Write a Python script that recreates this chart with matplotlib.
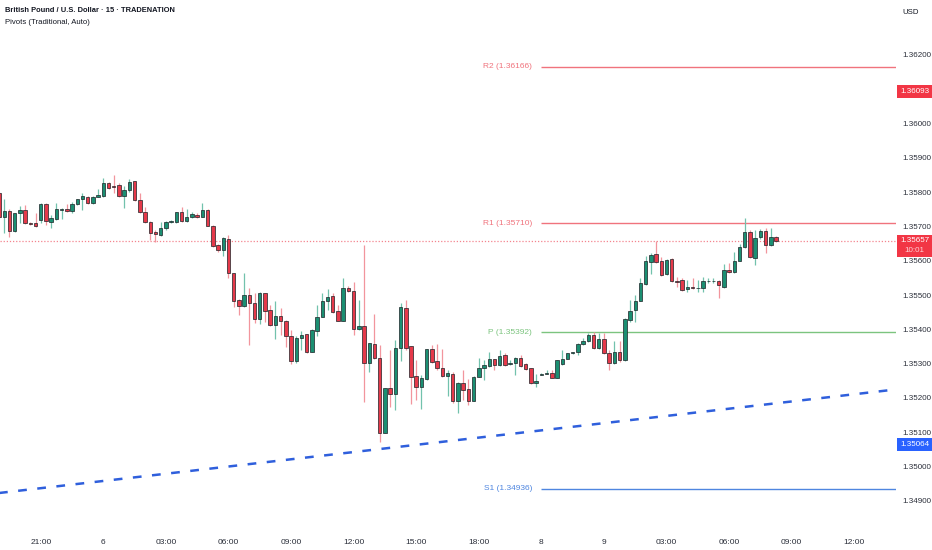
import matplotlib
matplotlib.use("Agg")
import matplotlib.pyplot as plt
import matplotlib.transforms as mtransforms
from matplotlib.patches import Rectangle
from matplotlib import font_manager as fm

names = {f.name for f in fm.fontManager.ttflist}
FONT = 'Liberation Sans Narrow' if 'Liberation Sans Narrow' in names else 'Liberation Sans'
plt.rcParams['font.family'] = [FONT, 'DejaVu Sans']

# ---------------- data ----------------
opens = [1.35797, 1.35727, 1.35745, 1.35687, 1.35738, 1.35748, 1.35711, 1.35709, 1.35719, 1.35765,
         1.35714, 1.35722, 1.35749, 1.35752, 1.35745, 1.35765, 1.35781, 1.35787, 1.35768, 1.35786,
         1.35789, 1.35828, 1.35818, 1.35820, 1.35789, 1.35805, 1.35833, 1.35777, 1.35743, 1.35714,
         1.35683, 1.35675, 1.35695, 1.35712, 1.35714, 1.35741, 1.35716, 1.35727, 1.35734, 1.35729,
         1.35748, 1.35701, 1.35646, 1.35632, 1.35664, 1.35564, 1.35486, 1.35468, 1.35500, 1.35476,
         1.35429, 1.35505, 1.35456, 1.35412, 1.35439, 1.35425, 1.35380, 1.35308, 1.35376, 1.35386,
         1.35335, 1.35396, 1.35437, 1.35483, 1.35498, 1.35453, 1.35425, 1.35521, 1.35511, 1.35400,
         1.35410, 1.35302, 1.35357, 1.35318, 1.35098, 1.35228, 1.35213, 1.35347, 1.35463, 1.35351,
         1.35264, 1.35233, 1.35254, 1.35342, 1.35308, 1.35288, 1.35264, 1.35271, 1.35191, 1.35245,
         1.35226, 1.35192, 1.35262, 1.35286, 1.35294, 1.35313, 1.35296, 1.35325, 1.35299, 1.35301,
         1.35317, 1.35299, 1.35286, 1.35245, 1.35267, 1.35270, 1.35274, 1.35259, 1.35299, 1.35315,
         1.35330, 1.35333, 1.35357, 1.35366, 1.35384, 1.35345, 1.35372, 1.35331, 1.35301, 1.35334,
         1.35311, 1.35428, 1.35457, 1.35484, 1.35532, 1.35596, 1.35619, 1.35600, 1.35561, 1.35606,
         1.35541, 1.35544, 1.35518, 1.35525, 1.35520, 1.35520, 1.35540, 1.35540, 1.35542, 1.35525,
         1.35574, 1.35567, 1.35600, 1.35639, 1.35685, 1.35608, 1.35668, 1.35687, 1.35645, 1.35669]
highs = [1.35800, 1.35779, 1.35750, 1.35740, 1.35760, 1.35762, 1.35714, 1.35740, 1.35768, 1.35768,
         1.35734, 1.35768, 1.35753, 1.35766, 1.35770, 1.35781, 1.35798, 1.35789, 1.35789, 1.35810,
         1.35841, 1.35830, 1.35850, 1.35828, 1.35818, 1.35839, 1.35834, 1.35797, 1.35758, 1.35716,
         1.35690, 1.35714, 1.35716, 1.35719, 1.35743, 1.35758, 1.35750, 1.35743, 1.35738, 1.35768,
         1.35750, 1.35704, 1.35648, 1.35668, 1.35674, 1.35564, 1.35488, 1.35564, 1.35520, 1.35505,
         1.35509, 1.35505, 1.35471, 1.35482, 1.35461, 1.35427, 1.35398, 1.35380, 1.35395, 1.35388,
         1.35400, 1.35471, 1.35505, 1.35519, 1.35505, 1.35471, 1.35550, 1.35526, 1.35539, 1.35485,
         1.35646, 1.35361, 1.35446, 1.35354, 1.35228, 1.35339, 1.35369, 1.35477, 1.35485, 1.35351,
         1.35310, 1.35267, 1.35344, 1.35354, 1.35356, 1.35344, 1.35281, 1.35276, 1.35247, 1.35283,
         1.35254, 1.35264, 1.35318, 1.35310, 1.35335, 1.35315, 1.35341, 1.35330, 1.35310, 1.35320,
         1.35325, 1.35303, 1.35288, 1.35271, 1.35273, 1.35283, 1.35283, 1.35312, 1.35340, 1.35332,
         1.35335, 1.35359, 1.35374, 1.35390, 1.35392, 1.35389, 1.35389, 1.35340, 1.35367, 1.35365,
         1.35433, 1.35486, 1.35501, 1.35549, 1.35615, 1.35622, 1.35658, 1.35612, 1.35605, 1.35608,
         1.35554, 1.35549, 1.35544, 1.35549, 1.35544, 1.35554, 1.35551, 1.35551, 1.35544, 1.35590,
         1.35595, 1.35627, 1.35648, 1.35724, 1.35690, 1.35690, 1.35692, 1.35695, 1.35697, 1.35671]
lows = [1.35725, 1.35682, 1.35668, 1.35685, 1.35711, 1.35707, 1.35704, 1.35698, 1.35711, 1.35704,
        1.35697, 1.35719, 1.35721, 1.35742, 1.35738, 1.35763, 1.35748, 1.35766, 1.35766, 1.35785,
        1.35787, 1.35810, 1.35797, 1.35787, 1.35755, 1.35802, 1.35775, 1.35738, 1.35709, 1.35661,
        1.35655, 1.35673, 1.35690, 1.35709, 1.35709, 1.35714, 1.35714, 1.35724, 1.35724, 1.35727,
        1.35700, 1.35639, 1.35627, 1.35614, 1.35549, 1.35464, 1.35442, 1.35466, 1.35355, 1.35418,
        1.35417, 1.35422, 1.35409, 1.35373, 1.35383, 1.35349, 1.35298, 1.35301, 1.35339, 1.35330,
        1.35333, 1.35380, 1.35435, 1.35456, 1.35448, 1.35425, 1.35425, 1.35509, 1.35383, 1.35398,
        1.35189, 1.35276, 1.35315, 1.35072, 1.35098, 1.35174, 1.35166, 1.35308, 1.35339, 1.35182,
        1.35194, 1.35169, 1.35252, 1.35303, 1.35283, 1.35260, 1.35205, 1.35184, 1.35157, 1.35194,
        1.35179, 1.35191, 1.35260, 1.35252, 1.35291, 1.35281, 1.35294, 1.35293, 1.35296, 1.35267,
        1.35291, 1.35281, 1.35242, 1.35233, 1.35267, 1.35269, 1.35257, 1.35257, 1.35296, 1.35315,
        1.35328, 1.35325, 1.35354, 1.35364, 1.35343, 1.35343, 1.35328, 1.35282, 1.35299, 1.35304,
        1.35309, 1.35423, 1.35423, 1.35483, 1.35528, 1.35561, 1.35595, 1.35557, 1.35559, 1.35538,
        1.35525, 1.35512, 1.35508, 1.35518, 1.35510, 1.35510, 1.35535, 1.35535, 1.35491, 1.35522,
        1.35564, 1.35564, 1.35598, 1.35637, 1.35608, 1.35588, 1.35664, 1.35622, 1.35642, 1.35654]
closes = [1.35729, 1.35745, 1.35687, 1.35738, 1.35748, 1.35709, 1.35707, 1.35700, 1.35765, 1.35716,
          1.35724, 1.35752, 1.35752, 1.35745, 1.35767, 1.35780, 1.35789, 1.35768, 1.35787, 1.35791,
          1.35828, 1.35812, 1.35814, 1.35789, 1.35807, 1.35830, 1.35777, 1.35741, 1.35712, 1.35682,
          1.35678, 1.35697, 1.35713, 1.35716, 1.35741, 1.35716, 1.35729, 1.35736, 1.35727, 1.35748,
          1.35701, 1.35643, 1.35632, 1.35666, 1.35564, 1.35484, 1.35468, 1.35500, 1.35478, 1.35429,
          1.35505, 1.35453, 1.35412, 1.35440, 1.35425, 1.35381, 1.35308, 1.35376, 1.35385, 1.35335,
          1.35398, 1.35437, 1.35483, 1.35495, 1.35451, 1.35425, 1.35521, 1.35511, 1.35400, 1.35410,
          1.35302, 1.35359, 1.35318, 1.35098, 1.35228, 1.35213, 1.35347, 1.35464, 1.35347, 1.35262,
          1.35233, 1.35257, 1.35342, 1.35305, 1.35286, 1.35264, 1.35273, 1.35191, 1.35244, 1.35223,
          1.35192, 1.35262, 1.35286, 1.35296, 1.35313, 1.35296, 1.35323, 1.35296, 1.35303, 1.35317,
          1.35294, 1.35284, 1.35244, 1.35250, 1.35271, 1.35274, 1.35259, 1.35310, 1.35315, 1.35330,
          1.35333, 1.35357, 1.35366, 1.35384, 1.35347, 1.35372, 1.35331, 1.35301, 1.35334, 1.35311,
          1.35430, 1.35455, 1.35483, 1.35535, 1.35598, 1.35617, 1.35596, 1.35559, 1.35603, 1.35540,
          1.35538, 1.35515, 1.35525, 1.35520, 1.35522, 1.35542, 1.35542, 1.35542, 1.35528, 1.35574,
          1.35567, 1.35600, 1.35640, 1.35685, 1.35610, 1.35666, 1.35687, 1.35647, 1.35669, 1.35657]

time_tick_bars = [8, 20, 32, 44, 56, 68, 80, 92, 104, 116, 128, 140, 152, 164]
time_tick_labels = ["21:00", "6", "03:00", "06:00", "09:00", "12:00", "15:00", "18:00",
                    "8", "9", "03:00", "06:00", "09:00", "12:00"]

price_ticks = [1.349, 1.350, 1.351, 1.352, 1.353, 1.354, 1.355, 1.356,
               1.357, 1.358, 1.359, 1.360, 1.362]

pivot_names = ["R2", "R1", "P", "S1"]
pivot_values = [1.36166, 1.35710, 1.35392, 1.34936]
pivot_colors = ["#f0737d", "#f0737d", "#7cc47f", "#4f86e0"]
pivot_start_bar = 104

trend_bars = [0, 172]
trend_prices = [1.34923, 1.35225]

last_price = 1.35657
countdown = "10:01"
high_marker = 1.36093
trend_marker = 1.35064

title = "British Pound / U.S. Dollar · 15 · TRADENATION"
subtitle = "Pivots (Traditional, Auto)"

# ---------------- figure ----------------
W, H = 932, 550
fig = plt.figure(figsize=(W / 100, H / 100), dpi=100)
fig.patch.set_facecolor("white")
plot_right_px = 896
plot_bottom_px = 527
ax = fig.add_axes([0, (H - plot_bottom_px) / H, plot_right_px / W, plot_bottom_px / H])
ax.set_facecolor("white")

n = len(opens)
xs = list(range(n))
ax.set_xlim(0.19, 172.0)
ax.set_ylim(1.348239, 1.363603)

GREEN = "#1b8f72"
RED = "#e5394a"
GREEN_WICK = "#72c2ad"
RED_WICK = "#f2959d"
EDGE = "#1d2226"

for i in xs:
    o, h, l, c = opens[i], highs[i], lows[i], closes[i]
    up = c >= o
    ax.vlines(i, l, h, colors=GREEN_WICK if up else RED_WICK, linewidth=0.9, zorder=2)
    bottom = min(o, c)
    height = max(abs(c - o), 0.000012)
    ax.bar(i, height, bottom=bottom, width=0.66, color=GREEN if up else RED,
           edgecolor=EDGE, linewidth=0.5, zorder=3)

# current price dotted line
ax.axhline(last_price, color="#f4848f", linewidth=0.9, linestyle=(0, (1, 1.5)), zorder=1)

# pivot levels
for name, val, col in zip(pivot_names, pivot_values, pivot_colors):
    ax.hlines(val, pivot_start_bar, 172.5, colors=col, linewidth=1.0, zorder=1)
    ax.text(pivot_start_bar - 1.8, val, f"{name} ({val:.5f})", color=col, fontsize=6,
            ha="right", va="center")

# trend line
ax.plot(trend_bars, trend_prices, color="#2f5fdc", linewidth=1.8,
        linestyle=(0, (3.5, 4.2)), zorder=4, solid_capstyle="butt", dash_capstyle="butt")

# axes styling
for s in ax.spines.values():
    s.set_visible(False)
ax.yaxis.tick_right()
ax.set_yticks(price_ticks)
ax.set_yticklabels([f"{p:.5f}" for p in price_ticks])
ax.tick_params(axis="y", length=0, pad=4.3, labelsize=5.8, labelcolor="#2a2e39")
ax.set_xticks(time_tick_bars)
ax.set_xticklabels(time_tick_labels)
ax.tick_params(axis="x", length=0, pad=8.5, labelsize=6, labelcolor="#2a2e39")

# axis value boxes
trans = mtransforms.blended_transform_factory(ax.transAxes, ax.transData)
px_price = (ax.get_ylim()[1] - ax.get_ylim()[0]) / plot_bottom_px
x0 = 1.0 + 1.0 / plot_right_px
bw = 35.0 / plot_right_px
xc = 1.0 + 18.5 / plot_right_px


def box(center, height_px, color, lines):
    hgt = height_px * px_price
    ax.add_patch(Rectangle((x0, center - hgt / 2), bw, hgt, transform=trans,
                           facecolor=color, edgecolor="none", clip_on=False, zorder=10))
    if len(lines) == 1:
        ax.text(xc, center, lines[0], transform=trans, color="white", fontsize=5.8,
                ha="center", va="center", clip_on=False, zorder=11)
    else:
        ax.text(xc, center + 5 * px_price, lines[0], transform=trans, color="white",
                fontsize=5.8, ha="center", va="center", clip_on=False, zorder=11)
        ax.text(xc, center - 5 * px_price, lines[1], transform=trans, color="#ffd3d7",
                fontsize=5.8, ha="center", va="center", clip_on=False, zorder=11)


box(high_marker, 13, "#f23645", [f"{high_marker:.5f}"])
box(last_price - 4.5 * px_price, 22, "#f23645", [f"{last_price:.5f}", countdown])
box(trend_marker, 13, "#2962ff", [f"{trend_marker:.5f}"])

# header texts
fig.text(5 / W, 1 - 10 / H, title, fontsize=5.4, fontweight="bold", color="#131722",
         ha="left", va="center")
fig.text(5 / W, 1 - 22 / H, subtitle, fontsize=5.6, color="#131722", ha="left", va="center")
fig.text(911 / W, 1 - 12 / H, "USD", fontsize=5.6, color="#131722", ha="center", va="center")

fig.savefig("out.png", dpi=100, facecolor="white")
